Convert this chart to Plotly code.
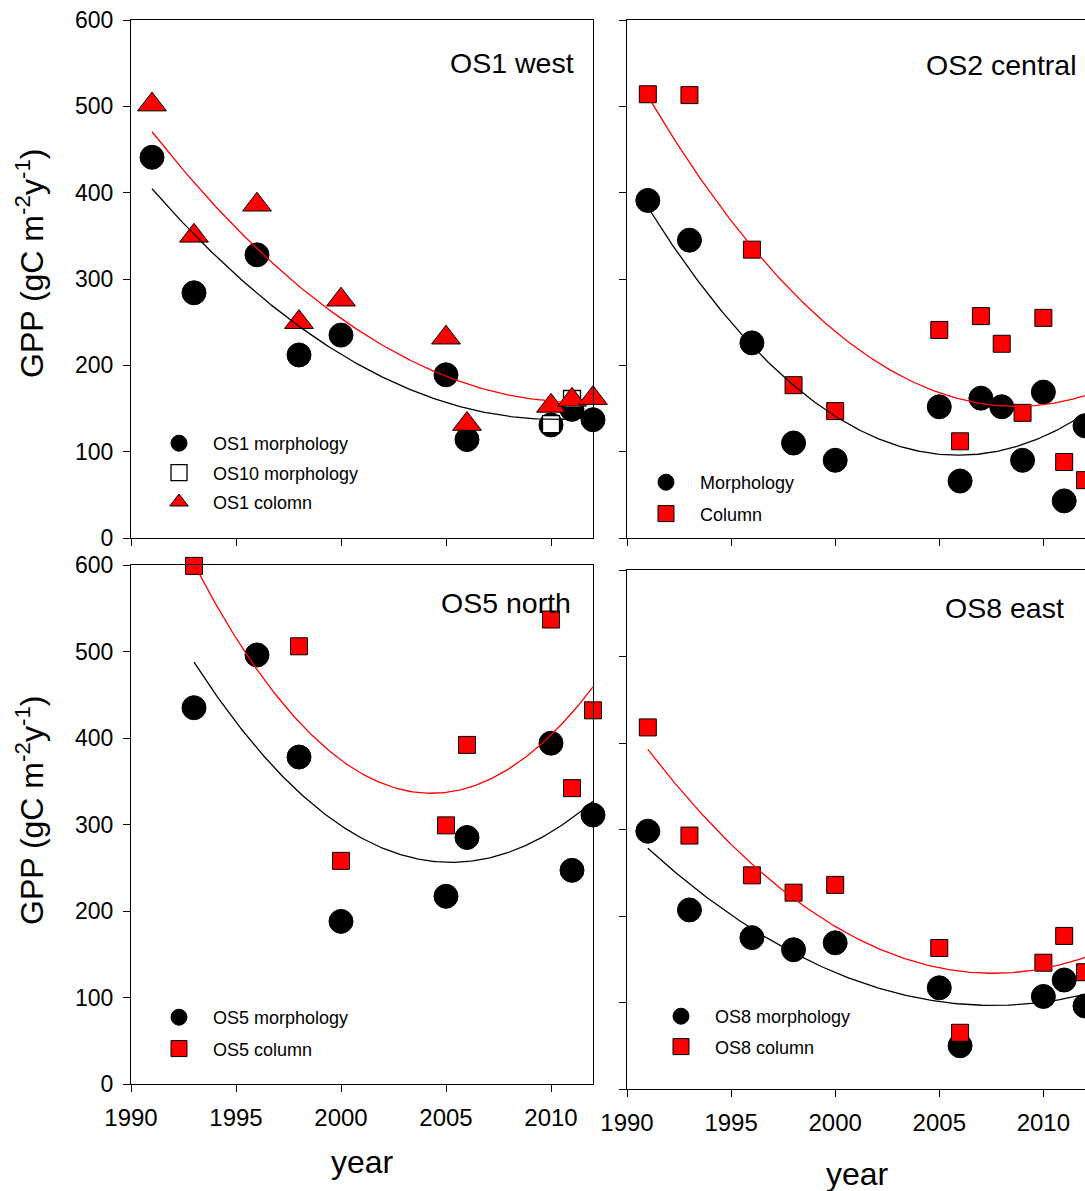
import numpy as np
import plotly.graph_objects as go

W, H = 1085, 1191
FONT = "Liberation Sans, Arial, sans-serif"
RED = "#FF0000"

# ---- OS1 west ----
os1_morph_year = [1991, 1993, 1996, 1998, 2000, 2005, 2006, 2010, 2011, 2012]
os1_morph_gpp = [441, 284, 328, 212, 235, 189, 114, 131, 149, 137]
os10_morph_year = [2010, 2011]
os10_morph_gpp = [132, 161]
os1_col_year = [1991, 1993, 1996, 1998, 2000, 2005, 2006, 2010, 2011, 2012]
os1_col_gpp = [502, 350, 386, 250, 276, 232, 132, 153, 160, 162]

# ---- OS2 central ----
os2_year = [1991, 1993, 1996, 1998, 2000, 2005, 2006, 2007, 2008, 2009, 2010, 2011, 2012]
os2_morph_gpp = [391, 345, 226, 110, 90, 152, 66, 162, 152, 90, 169, 43, 130]
os2_col_gpp = [514, 513, 334, 177, 147, 241, 112, 257, 225, 145, 255, 88, 67]

# ---- OS5 north ----
os5_morph_year = [1993, 1996, 1998, 2000, 2005, 2006, 2010, 2011, 2012]
os5_morph_gpp = [435, 496, 378, 188, 217, 285, 394, 247, 311]
os5_col_year = [1993, 1998, 2000, 2005, 2006, 2010, 2011, 2012]
os5_col_gpp = [599, 506, 258, 299, 392, 537, 342, 432]

# ---- OS8 east ----
os8_year = [1991, 1993, 1996, 1998, 2000, 2005, 2006, 2010, 2011, 2012]
os8_morph_gpp = [298, 207, 175, 161, 169, 117, 50, 107, 126, 96]
os8_col_gpp = [418, 293, 247, 227, 236, 163, 65, 146, 177, 135]

y_ticks = [0, 100, 200, 300, 400, 500, 600]
x_ticks = [1990, 1995, 2000, 2005, 2010]
x_range = [1990, 2012]
y_range = [0, 600]
y_title = "GPP (gC m<sup>-2</sup>y<sup>-1</sup>)"


def px_x(p):
    return p / W


def px_y(p):
    return 1 - p / H


# panel frames in pixels: (left, right, top, bottom)
panels = {
    1: (131, 593, 20, 538),
    2: (627, 1085, 20, 538),
    3: (131, 593, 565, 1084),
    4: (627, 1085, 570, 1089),
}

fig = go.Figure()


def axis_ids(i):
    return ("x", "y") if i == 1 else (f"x{i}", f"y{i}")


def quad_fit(xs, ys):
    c = np.polyfit(np.array(xs, float), np.array(ys, float), 2)
    t = np.linspace(min(xs), max(xs), 200)
    return t, np.polyval(c, t)


def add_points(i, xs, ys, name, symbol, size, fill, legend, group, edge=1):
    xa, ya = axis_ids(i)
    fig.add_trace(go.Scatter(
        x=xs, y=ys, mode="markers", name=name, xaxis=xa, yaxis=ya,
        marker=dict(symbol=symbol, size=size, color=fill,
                    line=dict(color="black", width=edge)),
        cliponaxis=False, legend=legend, legendgroup=group,
    ))


def add_fit(i, xs, ys, color):
    xa, ya = axis_ids(i)
    t, f = quad_fit(xs, ys)
    fig.add_trace(go.Scatter(
        x=t, y=f, mode="lines", showlegend=False, hoverinfo="skip",
        xaxis=xa, yaxis=ya, line=dict(color=color, width=1.3),
    ))


# OS1 west
add_points(1, os1_morph_year, os1_morph_gpp, "OS1 morphology", "circle", 24, "black", "legend", "a")
add_points(1, os10_morph_year, os10_morph_gpp, "OS10 morphology", "square", 17, "white", "legend", "b", 1.3)
add_points(1, os1_col_year, os1_col_gpp, "OS1 colomn", "triangle-up", 25, RED, "legend", "c")
add_fit(1, os1_morph_year, os1_morph_gpp, "black")
add_fit(1, os1_col_year, os1_col_gpp, RED)

# OS2 central
add_points(2, os2_year, os2_morph_gpp, "Morphology", "circle", 24, "black", "legend2", "a")
add_points(2, os2_year, os2_col_gpp, "Column", "square", 17, RED, "legend2", "b")
add_fit(2, os2_year, os2_morph_gpp, "black")
add_fit(2, os2_year, os2_col_gpp, RED)

# OS5 north
add_points(3, os5_morph_year, os5_morph_gpp, "OS5 morphology", "circle", 24, "black", "legend3", "a")
add_points(3, os5_col_year, os5_col_gpp, "OS5 column", "square", 17, RED, "legend3", "b")
add_fit(3, os5_morph_year, os5_morph_gpp, "black")
add_fit(3, os5_col_year, os5_col_gpp, RED)

# OS8 east
add_points(4, os8_year, os8_morph_gpp, "OS8 morphology", "circle", 24, "black", "legend4", "a")
add_points(4, os8_year, os8_col_gpp, "OS8 column", "square", 17, RED, "legend4", "b")
add_fit(4, os8_year, os8_morph_gpp, "black")
add_fit(4, os8_year, os8_col_gpp, RED)

layout = dict(
    template="none",
    width=W, height=H, margin=dict(l=0, r=0, t=0, b=0, pad=0, autoexpand=False),
    paper_bgcolor="white", plot_bgcolor="white",
    font=dict(family=FONT, color="black"),
    showlegend=True,
)

for i, (l, r, t, b) in panels.items():
    xs = "" if i == 1 else str(i)
    right_panel = i in (2, 4)
    layout[f"xaxis{xs}"] = dict(
        domain=[px_x(l), px_x(r)], range=x_range, anchor=f"y{xs}",
        tickvals=x_ticks, ticks="outside", ticklen=7, tickwidth=1, tickcolor="black",
        showticklabels=i in (3, 4), tickfont=dict(size=24, family=FONT),
        ticklabelstandoff=5,
        showline=True, linecolor="black", linewidth=1, mirror=True,
        showgrid=False, zeroline=False, fixedrange=True, automargin=False,
    )
    layout[f"yaxis{xs}"] = dict(
        domain=[px_y(b), px_y(t)], range=y_range, anchor=f"x{xs}",
        tickvals=y_ticks, ticks="outside", ticklen=7, tickwidth=1, tickcolor="black",
        showticklabels=i in (1, 3), tickfont=dict(size=23, family=FONT),
        ticklabelstandoff=5,
        showline=True, linecolor="black", linewidth=1, mirror=not right_panel,
        showgrid=False, zeroline=False, fixedrange=True, automargin=False,
    )

legend_common = dict(
    xanchor="left", yanchor="top", bgcolor="rgba(0,0,0,0)", borderwidth=0,
    font=dict(size=18, family=FONT), itemsizing="trace", itemwidth=58,
    traceorder="grouped",
)
layout["legend"] = dict(legend_common, x=px_x(145), y=px_y(425), tracegroupgap=3)
layout["legend2"] = dict(legend_common, x=px_x(632), y=px_y(464), tracegroupgap=5)
layout["legend3"] = dict(legend_common, x=px_x(145), y=px_y(999), tracegroupgap=5)
layout["legend4"] = dict(legend_common, x=px_x(647), y=px_y(998), tracegroupgap=4)

annotations = []
for text, xr, yc in [("OS1 west", 576, 63), ("OS2 central", 1079, 65),
                     ("OS5 north", 573, 603), ("OS8 east", 1066, 608)]:
    annotations.append(dict(text=text, x=px_x(xr), y=px_y(yc), xref="paper", yref="paper",
                            xanchor="right", yanchor="middle", showarrow=False,
                            font=dict(size=28.5, family=FONT)))
for yc in (263, 810):
    annotations.append(dict(text=y_title, x=px_x(30), y=px_y(yc), xref="paper", yref="paper",
                            xanchor="center", yanchor="middle", textangle=-90, showarrow=False,
                            font=dict(size=32, family=FONT)))
for xc, yc in [(362, 1162), (857, 1174)]:
    annotations.append(dict(text="year", x=px_x(xc), y=px_y(yc), xref="paper", yref="paper",
                            xanchor="center", yanchor="middle", showarrow=False,
                            font=dict(size=32, family=FONT)))
layout["annotations"] = annotations

fig.update_layout(**layout)
fig.write_html("out.html")
